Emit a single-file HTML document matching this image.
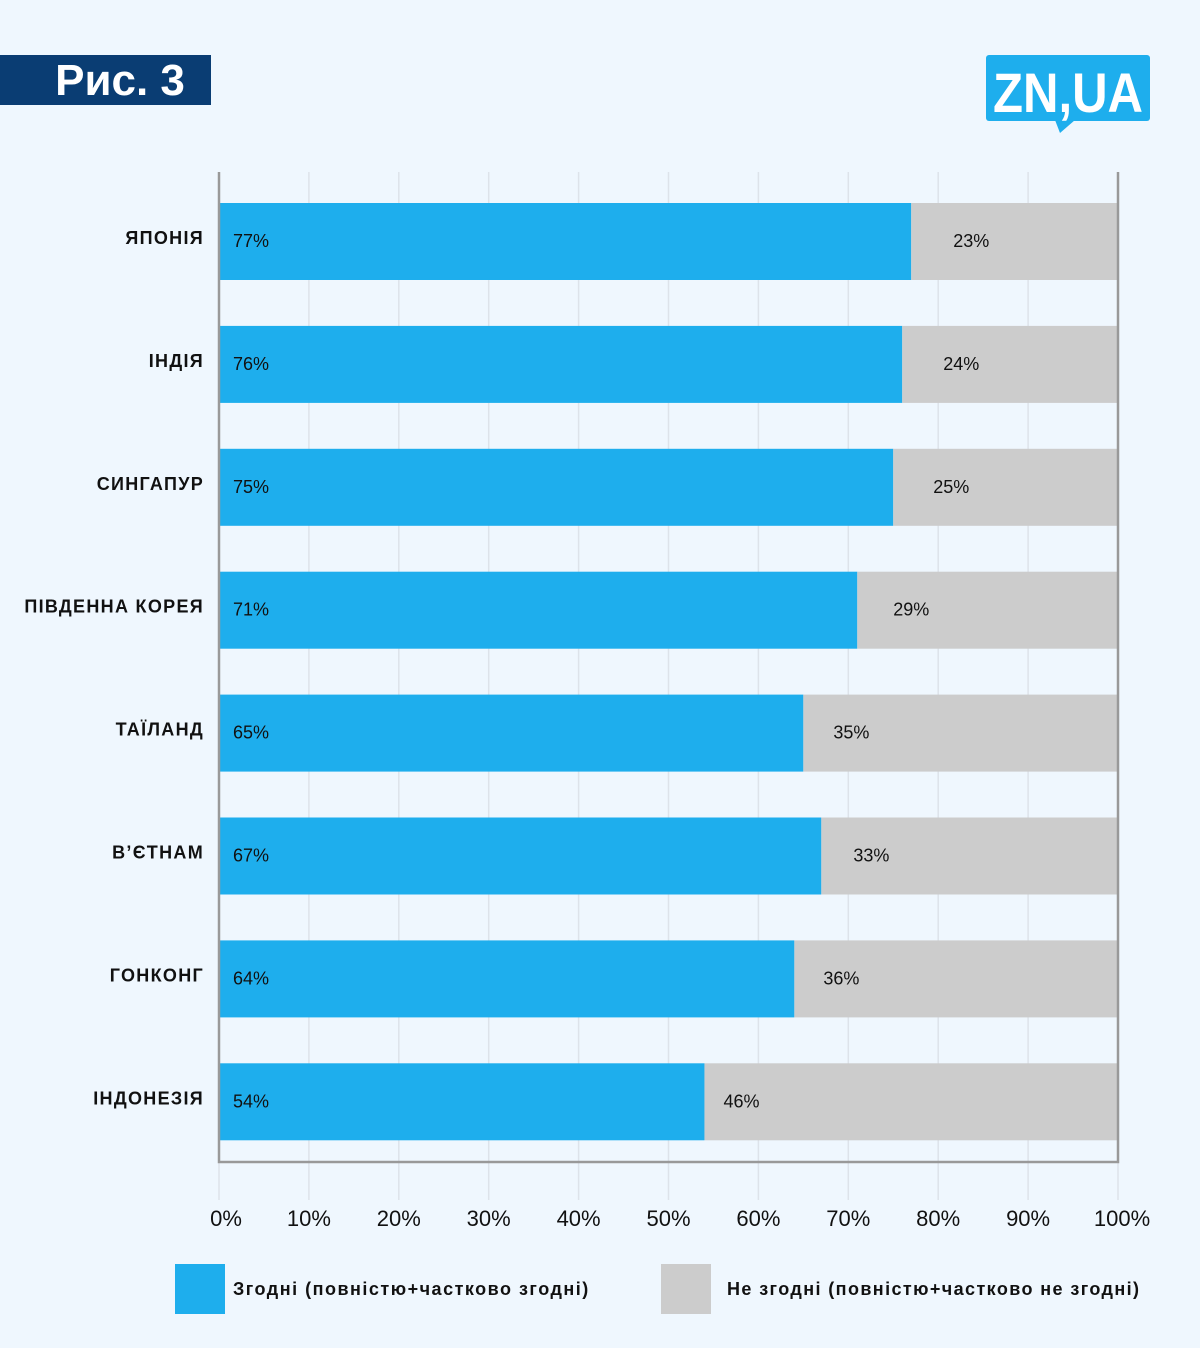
<!DOCTYPE html>
<html><head><meta charset="utf-8">
<style>
body{margin:0;background:#eff7fe;}
#wrap{position:relative;width:1200px;height:1348px;background:#eff7fe;font-family:"Liberation Sans",sans-serif;overflow:hidden;}
</style></head>
<body>
<div id="wrap">
<svg id="chart" width="1200" height="1348">
  <rect x="0" y="55" width="211" height="50" fill="#0a3d73"/>
  <text x="120" y="95" text-anchor="middle" font-size="44" font-weight="bold" fill="#fff">Рис. 3</text>
  <g>
    <rect x="986" y="55" width="164" height="66" rx="3" fill="#1eaeed"/>
    <polygon points="1055,120 1075,120 1060,133" fill="#1eaeed"/>
    <text x="1068" y="112" text-anchor="middle" font-size="56" font-weight="bold" fill="#fff" textLength="150" lengthAdjust="spacingAndGlyphs">ZN,UA</text>
  </g>
  <g id="grid"></g>
  <g id="bars"></g>
  <g id="frame"></g>
  <g id="ticks"></g>
  <g>
    <rect x="175" y="1264" width="50" height="50" fill="#1eaeed"/>
    <text x="233" y="1295" font-size="18" font-weight="bold" fill="#111" letter-spacing="1.5">Згодні (повністю+частково згодні)</text>
    <rect x="661" y="1264" width="50" height="50" fill="#cccccc"/>
    <text x="727" y="1295" font-size="18" font-weight="bold" fill="#111" letter-spacing="1.4">Не згодні (повністю+частково не згодні)</text>
  </g>
</svg>
</div>
<script>
const categories=["ЯПОНІЯ","ІНДІЯ","СИНГАПУР","ПІВДЕННА КОРЕЯ","ТАЇЛАНД","В’ЄТНАМ","ГОНКОНГ","ІНДОНЕЗІЯ"];
const agree=[77,76,75,71,65,67,64,54];
const disagree=[23,24,25,29,35,33,36,46];
const tickValues=[0,10,20,30,40,50,60,70,80,90,100];
const tickLabels=["0%","10%","20%","30%","40%","50%","60%","70%","80%","90%","100%"];

const NS="http://www.w3.org/2000/svg";
const x0=219,x1=1118,yTop=172,yBot=1162;
const xs=v=>x0+(v/100)*(x1-x0);
const rowY=i=>203+i*122.9;
const barH=77;
function mk(tag,attrs,parent){const e=document.createElementNS(NS,tag);for(const k in attrs)e.setAttribute(k,attrs[k]);parent.appendChild(e);return e;}
const grid=document.getElementById('grid'),bars=document.getElementById('bars'),frame=document.getElementById('frame'),ticks=document.getElementById('ticks');
tickValues.forEach((v,i)=>{
  const l=mk('line',{x1:xs(v),x2:xs(v),y1:yTop,y2:1200,stroke:'#dde3ea','stroke-width':1.5},grid);
  
  
  const t=mk('text',{x:xs(v)+(i==0?7:(i==10?4:0)),y:1226,'text-anchor':'middle','font-size':22,fill:'#111'},ticks);
  t.textContent=tickLabels[i];
  
  
});
categories.forEach((c,i)=>{
  const y=rowY(i);
  const b=mk('rect',{x:xs(0),y:y,width:xs(agree[i])-xs(0),height:barH,fill:'#1eaeed'},bars);
  
  
  const g=mk('rect',{x:xs(agree[i]),y:y,width:xs(agree[i]+disagree[i])-xs(agree[i]),height:barH,fill:'#cccccc'},bars);
  
  
  const t1=mk('text',{x:xs(0)+14,y:y+44,'font-size':18,fill:'#111'},bars);
  t1.textContent=agree[i]+'%';
  
  
  const t2=mk('text',{x:xs(agree[i])+83-disagree[i],y:y+44,'font-size':18,fill:'#111','text-anchor':'middle'},bars);
  t2.textContent=disagree[i]+'%';
  
  
  const cl=mk('text',{x:204,y:y+41,'font-size':18,'font-weight':'bold',fill:'#111','text-anchor':'end','letter-spacing':1.3},bars);
  cl.textContent=c;
  
  
});
const fr=mk('path',{d:`M${x0},${yTop} V${yBot} H${x1} V${yTop}`,fill:'none',stroke:'#999','stroke-width':2.5},frame);


</script>
</body></html>
